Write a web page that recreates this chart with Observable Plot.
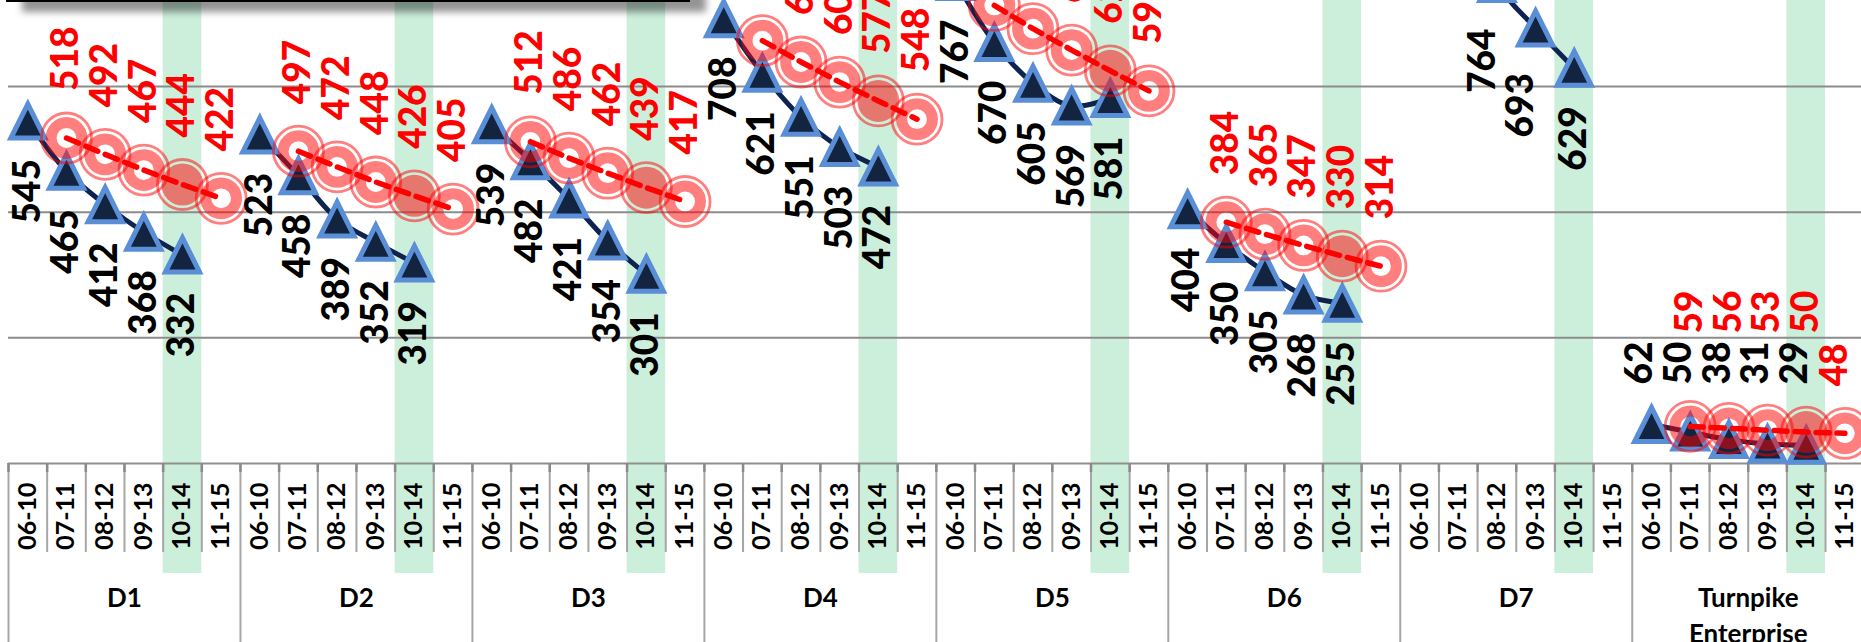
<!DOCTYPE html>
<html>
<head>
<meta charset="utf-8">
<script src="https://cdn.jsdelivr.net/npm/d3@7"></script>
<script src="https://cdn.jsdelivr.net/npm/@observablehq/plot@0.6"></script>
<style>
  html, body { margin: 0; padding: 0; background: #fff; }
  #wrap { position: relative; width: 1861px; height: 642px; overflow: hidden; }
  #chart svg { display: block; }
  #legendBox { position: absolute; left: 6px; top: -62px; width: 680px; height: 60px;
    border: 2px solid #000; background: #fff; box-shadow: 16px 10px 7px rgba(0,0,0,0.42); }
</style>
</head>
<body>
<div id="wrap"><div id="chart"></div><div id="legendBox"></div></div>
<script>
// ---- categories ----
const districts = ["D1", "D2", "D3", "D4", "D5", "D6", "D7", "Turnpike\nEnterprise"];
const periods = ["06-10", "07-11", "08-12", "09-13", "10-14", "11-15"];
const actualPeriods = ["06-10", "07-11", "08-12", "09-13", "10-14"];
const forecastPeriods = ["07-11", "08-12", "09-13", "10-14", "11-15"];
const highlightPeriod = "10-14";

// ---- actual values (triangles) ----
const d1Actual = [545, 465, 412, 368, 332];
const d2Actual = [523, 458, 389, 352, 319];
const d3Actual = [539, 482, 421, 354, 301];
const d4Actual = [708, 621, 551, 503, 472];
const d5Actual = [767, 670, 605, 569, 581];
const d6Actual = [404, 350, 305, 268, 255];
const d7Actual = [1040, 930, 764, 693, 629];
const tpkActual = [62, 50, 38, 31, 29];

// ---- forecast values (red targets) ----
const d1Forecast = [518, 492, 467, 444, 422];
const d2Forecast = [497, 472, 448, 426, 405];
const d3Forecast = [512, 486, 462, 439, 417];
const d4Forecast = [673, 639, 607, 577, 548];
const d5Forecast = [729, 692, 658, 625, 593];
const d6Forecast = [384, 365, 347, 330, 314];
const d7Forecast = [988, 939, 892, 847, 805];
const tpkForecast = [59, 56, 53, 50, 48];

const actualSeries = [d1Actual, d2Actual, d3Actual, d4Actual, d5Actual, d6Actual, d7Actual, tpkActual];
const forecastSeries = [d1Forecast, d2Forecast, d3Forecast, d4Forecast, d5Forecast, d6Forecast, d7Forecast, tpkForecast];

// ---- tables built from the arrays ----
const perGroup = periods.length;
const slot = (di, p) => di * perGroup + periods.indexOf(p) + 0.5;
const actualRows = districts.flatMap((d, di) => actualSeries[di].map((v, j) =>
  ({district: d, di, period: actualPeriods[j], x: slot(di, actualPeriods[j]), value: v})));
const forecastRows = districts.flatMap((d, di) => forecastSeries[di].map((v, j) =>
  ({district: d, di, period: forecastPeriods[j], x: slot(di, forecastPeriods[j]), value: v})));
const tickRows = districts.flatMap((d, di) => periods.map(p => ({district: d, period: p, x: slot(di, p)})));
const groupRows = districts.map((d, di) => ({district: d, x: di * perGroup + perGroup / 2}));
const bandRows = districts.map((d, di) => ({district: d, x: slot(di, highlightPeriod)}));
const boundaries = d3.range(0, districts.length * perGroup + 1);
const innerBounds = boundaries.filter(b => b % perGroup !== 0);
const groupBounds = boundaries.filter(b => b % perGroup === 0);

const lastGroup = districts.length - 1;
const tpkActualMax = d3.max(tpkActual);
const tpkForecastMax = d3.max(tpkForecast);
const nudged = d => d.di === 6 && (d.period === "08-12" || d.period === "09-13");

// Excel-like triangle marker: square bounding box centred on the point
const excelTriangle = {
  draw(context, size) {
    const r = Math.sqrt(size / Math.PI);
    context.moveTo(0, -r);
    context.lineTo(r, r);
    context.lineTo(-r, r);
    context.closePath();
  }
};

const labelFont = {fontFamily: "Lato", fontWeight: 900, fontSize: 37, rotate: -90, lineAnchor: "middle"};
const axisFont = {fontFamily: "Lato", fontWeight: "bold"};

const chart = Plot.plot({
  width: 1861,
  height: 642,
  marginTop: 0, marginRight: 0, marginBottom: 0, marginLeft: 0,
  x: {type: "linear", domain: [0, districts.length * perGroup], range: [8, 1863.7], axis: null},
  y: {type: "linear", domain: [0, 600], range: [463, 86], axis: null},
  style: {background: "#fff", overflow: "visible"},
  marks: [
    // highlighted 10-14 column
    Plot.rect(bandRows, {x1: d => d.x - 0.5, x2: d => d.x + 0.5, fill: "#ccefdc", insetBottom: 69}),
    // gridlines and axis
    Plot.ruleY([200, 400, 600], {x1: 0, x2: districts.length * perGroup, stroke: "#8c8c8c", strokeWidth: 2}),
    Plot.ruleY([0], {x1: 0, x2: districts.length * perGroup, stroke: "#8f8f8f", strokeWidth: 2}),
    // category separators
    Plot.ruleX(innerBounds, {x: d => d, y1: 0, y2: 0, insetBottom: -89, stroke: "#a6a6a6", strokeWidth: 2}),
    Plot.ruleX(groupBounds, {x: d => d, y1: 0, y2: 0, insetBottom: -180, stroke: "#a6a6a6", strokeWidth: 2}),
    Plot.ruleX(boundaries, {x: d => d, y1: 0, y2: 0, insetBottom: -9, stroke: "#8a8a8a", strokeWidth: 2.5}),
    // actual series
    Plot.line(actualRows, {x: "x", y: "value", z: "district", stroke: "#0f2350", strokeWidth: 5, curve: "catmull-rom"}),
    Plot.dot(actualRows, {x: "x", y: "value", symbol: excelTriangle, r: 17, fill: "#12243f",
      stroke: "#5a8ed6", strokeWidth: 5, strokeLinejoin: "miter"}),
    // forecast targets
    Plot.dot(forecastRows, {x: "x", y: "value", r: 25, fill: "none", stroke: "#ff0000", strokeOpacity: 0.5, strokeWidth: 2.8}),
    Plot.dot(forecastRows.filter(d => d.period !== highlightPeriod), {x: "x", y: "value", r: 15.4, fill: "none",
      stroke: "#ff0000", strokeOpacity: 0.5, strokeWidth: 11}),
    Plot.dot(forecastRows.filter(d => d.period === highlightPeriod), {x: "x", y: "value", r: 21,
      fill: "#ff0000", fillOpacity: 0.5}),
    Plot.line(forecastRows, {x: "x", y: "value", z: "district", stroke: "#ff0000", strokeWidth: 5.5, strokeDasharray: "13,8"}),
    // actual labels
    Plot.text(actualRows.filter(d => d.di !== lastGroup && !nudged(d)), {x: "x", y: "value", text: d => String(d.value),
      ...labelFont, fill: "#000", textAnchor: "end", dy: 38}),
    Plot.text(actualRows.filter(nudged), {x: "x", y: "value", text: d => String(d.value),
      ...labelFont, fill: "#000", textAnchor: "end", dy: 45, dx: -14}),
    Plot.text(actualRows.filter(d => d.di === lastGroup), {x: "x", y: () => tpkActualMax, text: d => String(d.value),
      ...labelFont, fill: "#000", textAnchor: "start", dy: -40, dx: -11}),
    // forecast labels
    Plot.text(forecastRows.filter(d => d.di !== lastGroup), {x: "x", y: "value", text: d => String(d.value),
      ...labelFont, fill: "#ff0000", textAnchor: "start", dy: -47}),
    Plot.text(forecastRows.filter(d => d.di === lastGroup && d.period !== "11-15"), {x: "x", y: () => tpkForecastMax,
      text: d => String(d.value), ...labelFont, fill: "#ff0000", textAnchor: "start", dy: -93}),
    Plot.text(forecastRows.filter(d => d.di === lastGroup && d.period === "11-15"), {x: "x", y: "value",
      text: d => String(d.value), ...labelFont, fill: "#ff0000", textAnchor: "start", dy: -47, dx: -10}),
    // category axis labels
    Plot.text(tickRows, {x: "x", y: 0, text: "period", ...axisFont, fontSize: 25, rotate: -90,
      textAnchor: "end", lineAnchor: "middle", dy: 19, fill: "#000"}),
    Plot.text(groupRows, {x: "x", y: 0, text: "district", ...axisFont, fontSize: 26,
      lineAnchor: "top", lineHeight: 1.35, dy: 119, fill: "#000"})
  ]
});
document.getElementById("chart").appendChild(chart);
</script>
</body>
</html>
